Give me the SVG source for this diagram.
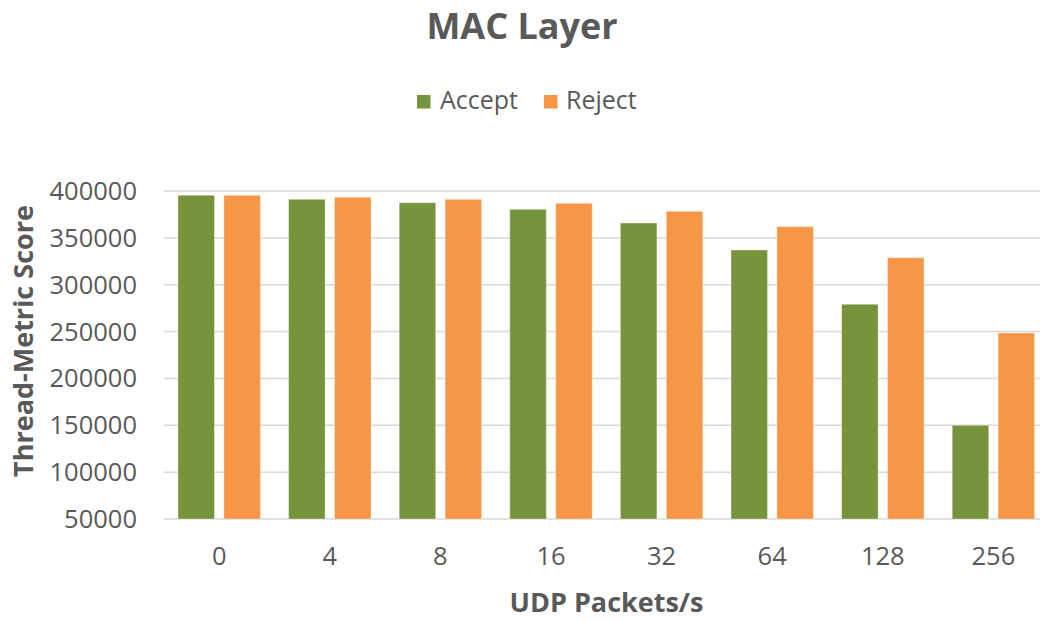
<svg xmlns="http://www.w3.org/2000/svg" width="1040" height="622" viewBox="0 0 1040 622">
  <style>
    text { font-family: "Open Sans", "Liberation Sans", sans-serif; fill: #595959; }
    .title { font-size: 36px; font-weight: bold; }
    .axis-title { font-size: 27px; font-weight: bold; }
    .tick { font-size: 25.5px; }
    .legend { font-size: 25px; }
    .grid { stroke: #d9d9d9; stroke-width: 1.5; }
    .accept { fill: #77933c; stroke: #ffffff; stroke-opacity: 0.35; stroke-width: 1; }
    .reject { fill: #f79646; stroke: #ffffff; stroke-opacity: 0.35; stroke-width: 1; }
  </style>

  <rect width="1040" height="622" fill="#ffffff"/>

  <!-- chart title -->
  <g id="title">
    <text class="title" x="522" y="38.5" text-anchor="middle">MAC Layer</text>
  </g>

  <!-- legend -->
  <g id="legend">
    <rect x="417" y="95" width="13.5" height="13.5" fill="#77933c"/>
    <text class="legend" x="440" y="108.5">Accept</text>
    <rect x="544" y="95" width="13.5" height="13.5" fill="#f79646"/>
    <text class="legend" x="566" y="108.5">Reject</text>
  </g>

  <!-- horizontal gridlines and value axis -->
  <g id="gridlines">
    <line class="grid" x1="164" y1="191" x2="1040" y2="191"/>
    <line class="grid" x1="164" y1="237.9" x2="1040" y2="237.9"/>
    <line class="grid" x1="164" y1="284.7" x2="1040" y2="284.7"/>
    <line class="grid" x1="164" y1="331.6" x2="1040" y2="331.6"/>
    <line class="grid" x1="164" y1="378.4" x2="1040" y2="378.4"/>
    <line class="grid" x1="164" y1="425.3" x2="1040" y2="425.3"/>
    <line class="grid" x1="164" y1="472.2" x2="1040" y2="472.2"/>
    <line class="grid" x1="164" y1="519" x2="1040" y2="519"/>
  </g>

  <g id="y-axis-labels" text-anchor="end">
    <text class="tick" x="137" y="200">400000</text>
    <text class="tick" x="137" y="246.9">350000</text>
    <text class="tick" x="137" y="293.7">300000</text>
    <text class="tick" x="137" y="340.6">250000</text>
    <text class="tick" x="137" y="387.4">200000</text>
    <text class="tick" x="137" y="434.3">150000</text>
    <text class="tick" x="137" y="481.2">100000</text>
    <text class="tick" x="137" y="528">50000</text>
  </g>

  <g id="y-axis-title">
    <text class="axis-title" transform="translate(33 341) rotate(-90)" text-anchor="middle">Thread-Metric Score</text>
  </g>

  <!-- Accept series -->
  <g id="series-accept">
    <rect class="accept" x="178" y="195.3" width="36.5" height="323.7"/>
    <rect class="accept" x="288.6" y="199.3" width="36.5" height="319.7"/>
    <rect class="accept" x="399.2" y="202.7" width="36.5" height="316.3"/>
    <rect class="accept" x="509.8" y="209.3" width="36.5" height="309.7"/>
    <rect class="accept" x="620.4" y="223" width="36.5" height="296"/>
    <rect class="accept" x="731" y="250" width="36.5" height="269"/>
    <rect class="accept" x="841.6" y="304.3" width="36.5" height="214.7"/>
    <rect class="accept" x="952.2" y="425.3" width="36.5" height="93.7"/>
  </g>

  <!-- Reject series -->
  <g id="series-reject">
    <rect class="reject" x="223.9" y="195.3" width="36.5" height="323.7"/>
    <rect class="reject" x="334.5" y="197.3" width="36.5" height="321.7"/>
    <rect class="reject" x="445.1" y="199.3" width="36.5" height="319.7"/>
    <rect class="reject" x="555.7" y="203.3" width="36.5" height="315.7"/>
    <rect class="reject" x="666.3" y="211.3" width="36.5" height="307.7"/>
    <rect class="reject" x="776.9" y="226.7" width="36.5" height="292.3"/>
    <rect class="reject" x="887.5" y="257.7" width="36.5" height="261.3"/>
    <rect class="reject" x="998.1" y="333" width="36.5" height="186"/>
  </g>

  <!-- category axis -->
  <g id="x-axis-labels" text-anchor="middle">
    <text class="tick" x="219.2" y="565">0</text>
    <text class="tick" x="329.8" y="565">4</text>
    <text class="tick" x="440.4" y="565">8</text>
    <text class="tick" x="551" y="565">16</text>
    <text class="tick" x="661.6" y="565">32</text>
    <text class="tick" x="772.2" y="565">64</text>
    <text class="tick" x="882.8" y="565">128</text>
    <text class="tick" x="993.4" y="565">256</text>
  </g>

  <g id="x-axis-title">
    <text class="axis-title" x="606.5" y="612" text-anchor="middle">UDP Packets/s</text>
  </g>
</svg>
